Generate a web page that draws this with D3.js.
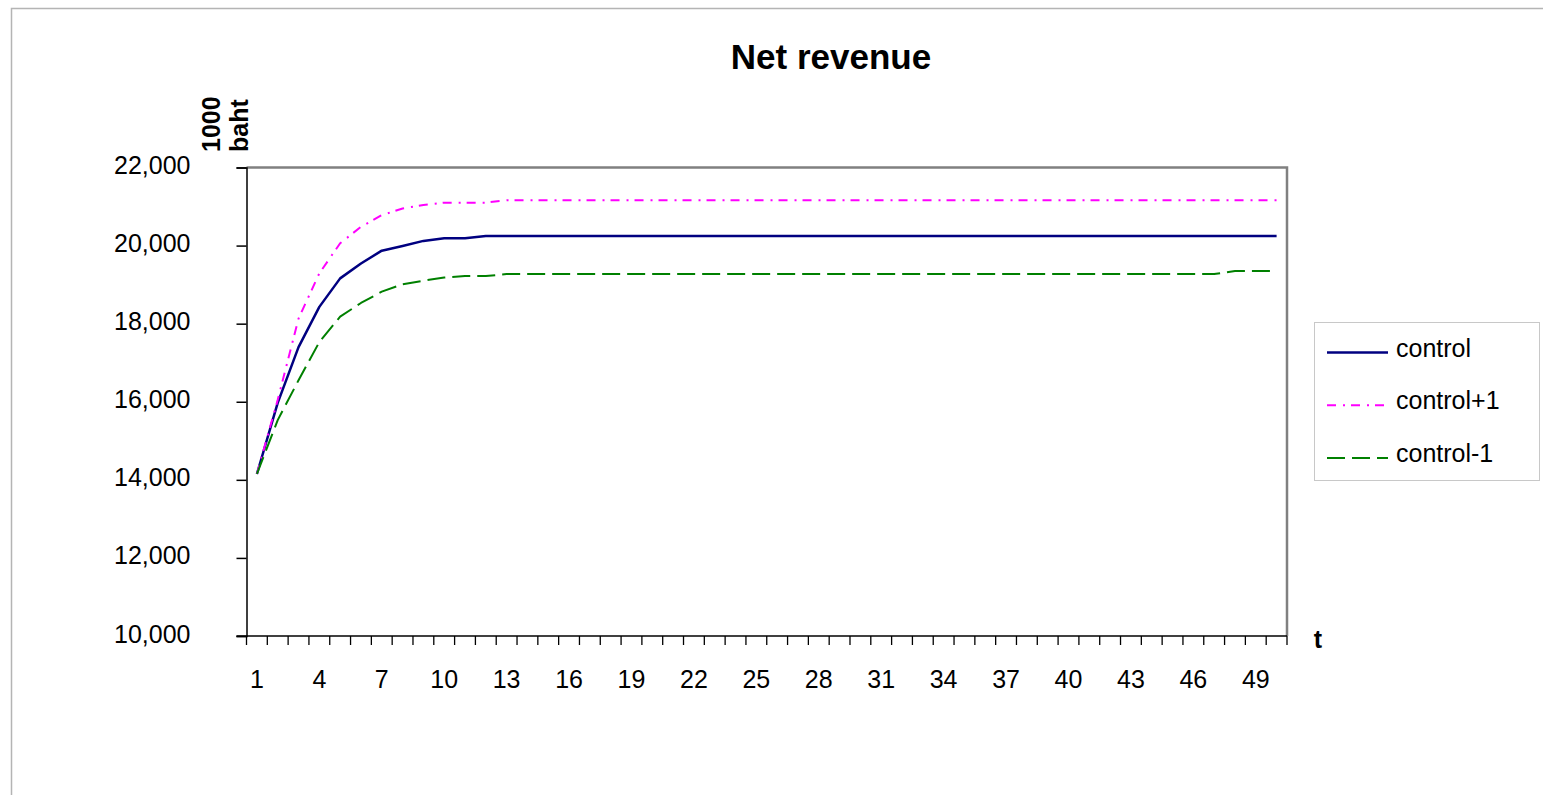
<!DOCTYPE html>
<html>
<head>
<meta charset="utf-8">
<script src="https://cdn.jsdelivr.net/npm/d3@7"></script>
<style>
  html, body { margin: 0; padding: 0; background: #fff; }
  svg { display: block; font-family: "Liberation Sans", Arial, sans-serif; }
</style>
</head>
<body>
<svg id="chart" width="1543" height="795"></svg>
<script>
// Periods t = 1..50
const periods = d3.range(1, 51);

// Net revenue, 1000 baht
const controlValues = [14150, 15970, 17400, 18430, 19160, 19540, 19870, 19990, 20120, 20185, 20185, 20245,
  20245, 20245, 20245, 20245, 20245, 20245, 20245, 20245, 20245, 20245, 20245, 20245, 20245, 20245, 20245,
  20245, 20245, 20245, 20245, 20245, 20245, 20245, 20245, 20245, 20245, 20245, 20245, 20245, 20245, 20245,
  20245, 20245, 20245, 20245, 20245, 20245, 20245, 20245];
const controlPlusValues = [14150, 16050, 18130, 19290, 20060, 20480, 20780, 20950, 21040, 21100, 21100, 21100,
  21160, 21160, 21160, 21160, 21160, 21160, 21160, 21160, 21160, 21160, 21160, 21160, 21160, 21160, 21160,
  21160, 21160, 21160, 21160, 21160, 21160, 21160, 21160, 21160, 21160, 21160, 21160, 21160, 21160, 21160,
  21160, 21160, 21160, 21160, 21160, 21160, 21160, 21160];
const controlMinusValues = [14150, 15530, 16550, 17530, 18180, 18530, 18820, 19010, 19100, 19180, 19220, 19220,
  19270, 19270, 19270, 19270, 19270, 19270, 19270, 19270, 19270, 19270, 19270, 19270, 19270, 19270, 19270,
  19270, 19270, 19270, 19270, 19270, 19270, 19270, 19270, 19270, 19270, 19270, 19270, 19270, 19270, 19270,
  19270, 19270, 19270, 19270, 19270, 19350, 19350, 19350];

const seriesNames = ["control", "control+1", "control-1"];
const yTickValues = [10000, 12000, 14000, 16000, 18000, 20000, 22000];
const xLabelStep = 3;

const series = [
  { name: seriesNames[0], values: controlValues, color: "#000080", width: 2.5, dash: null },
  { name: seriesNames[1], values: controlPlusValues, color: "#ff00ff", width: 2, dash: "9,7,2,6" },
  { name: seriesNames[2], values: controlMinusValues, color: "#008000", width: 2, dash: "18,7" }
];

const svg = d3.select("#chart");

// Outer chart frame
svg.append("rect")
  .attr("x", 11.5).attr("y", 8.5)
  .attr("width", 1560).attr("height", 820)
  .attr("fill", "none").attr("stroke", "#b4b4b4").attr("stroke-width", 1.5);

const plot = { left: 246.5, right: 1287, top: 167.5, bottom: 636 };

const x = d3.scaleBand().domain(periods).range([plot.left, plot.right]).padding(0);
const y = d3.scaleLinear().domain([10000, 22000]).range([plot.bottom, plot.top]);

// Plot area border (top and right)
svg.append("path")
  .attr("d", `M${plot.left},${plot.top}H${plot.right}V${plot.bottom}`)
  .attr("fill", "none").attr("stroke", "#808080").attr("stroke-width", 2.5);

// Title
svg.append("text")
  .attr("x", 831).attr("y", 69)
  .attr("text-anchor", "middle")
  .attr("font-size", 35).attr("font-weight", "bold")
  .text("Net revenue");

// Y axis
const yAxis = d3.axisLeft(y)
  .tickValues(yTickValues)
  .tickSize(10)
  .tickPadding(46)
  .tickFormat(d3.format(","));
const gy = svg.append("g").attr("transform", `translate(${plot.left},0)`).call(yAxis);
gy.select(".domain").attr("stroke", "#000").attr("stroke-width", 1.5);
gy.selectAll(".tick line").attr("stroke", "#000").attr("stroke-width", 1.5);
gy.selectAll(".tick text").attr("font-size", 25).attr("fill", "#000")
  .attr("dy", "0.24em")
  .attr("font-family", "Liberation Sans, Arial, sans-serif");

// Y axis title (two lines, rotated)
[["1000", 220], ["baht", 248]].forEach(([txt, xx]) => {
  svg.append("text")
    .attr("transform", `translate(${xx},152) rotate(-90)`)
    .attr("font-size", 25).attr("font-weight", "bold")
    .text(txt);
});

// X axis: boundary ticks for every period, labels on every third period
const gx = svg.append("g").attr("transform", `translate(0,${plot.bottom})`);
gx.append("line")
  .attr("x1", plot.left - 10).attr("x2", plot.right)
  .attr("stroke", "#000").attr("stroke-width", 1.5);
const boundaries = periods.map(p => x(p)).concat([x(periods[periods.length - 1]) + x.bandwidth()]);
gx.selectAll("line.tick")
  .data(boundaries)
  .join("line")
  .attr("class", "tick")
  .attr("x1", d => d).attr("x2", d => d)
  .attr("y1", 0).attr("y2", 9)
  .attr("stroke", "#000").attr("stroke-width", 1.3);
gx.selectAll("text.lbl")
  .data(periods.filter((p, i) => i % xLabelStep === 0))
  .join("text")
  .attr("class", "lbl")
  .attr("x", d => x(d) + x.bandwidth() / 2)
  .attr("y", 52)
  .attr("text-anchor", "middle")
  .attr("font-size", 25)
  .text(d => d);

// X axis title
svg.append("text")
  .attr("x", 1318).attr("y", 648)
  .attr("text-anchor", "middle")
  .attr("font-size", 25).attr("font-weight", "bold")
  .text("t");

// Series lines
const line = d3.line()
  .x((d, i) => x(periods[i]) + x.bandwidth() / 2)
  .y(d => y(d));

svg.append("g").selectAll("path")
  .data(series)
  .join("path")
  .attr("d", s => line(s.values))
  .attr("fill", "none")
  .attr("stroke", s => s.color)
  .attr("stroke-width", s => s.width)
  .attr("stroke-dasharray", s => s.dash)
  .attr("stroke-linejoin", "round");

// Legend
const legend = svg.append("g");
legend.append("rect")
  .attr("x", 1314.5).attr("y", 322.5)
  .attr("width", 225).attr("height", 158)
  .attr("fill", "#fff").attr("stroke", "#c8c8c8").attr("stroke-width", 1);
const rows = legend.selectAll("g.row")
  .data(series)
  .join("g")
  .attr("class", "row")
  .attr("transform", (d, i) => `translate(0,${352.5 + i * 52.7})`);
rows.append("line")
  .attr("x1", 1327).attr("x2", 1388)
  .attr("stroke", d => d.color)
  .attr("stroke-width", d => d.width)
  .attr("stroke-dasharray", d => d.dash);
rows.append("text")
  .attr("x", 1396).attr("y", 4)
  .attr("font-size", 25)
  .text(d => d.name);
</script>
</body>
</html>
